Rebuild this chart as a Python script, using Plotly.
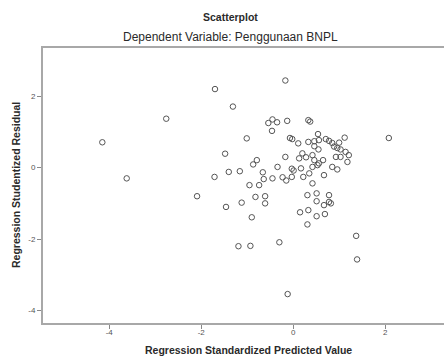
import plotly.graph_objects as go

# Regression Standardized Predicted Value
pred = [-4.15, -3.62, -2.76, -1.70, -1.31, -0.17, -0.45, -0.54, -0.35, -0.46,
        -0.13, -1.01, -0.07, -0.02, 0.11, -1.48, -0.79, -0.87, -0.17, -0.34,
        -0.03, 0.01, -1.40, -1.16, -1.71, -0.66, -0.64, -0.45, -0.23, -0.15,
        -0.03, -0.95, -0.74, -2.09, -0.82, -0.61, -0.61, -1.12, -1.46, -0.90,
        -1.19, -0.93, -0.30, -0.12, 0.33, 0.37, 0.33, 0.46, 0.54, 0.46,
        0.55, 0.71, 0.78, 0.85, 0.89, 0.96, 1.00, 1.12, 1.03, 1.14,
        1.21, 1.18, 1.03, 0.93, 2.08, 0.13, 0.28, 0.42, 0.46, 0.65,
        0.56, 0.17, 0.22, 0.35, 0.42, 0.53, 0.67, 0.85, 0.96, 0.42,
        0.31, 0.51, 0.78, 0.51, 0.67, 0.78, 0.82, 0.15, 0.33, 0.51,
        0.69, 0.31, 1.37, 1.39, 0.20, 0.56]

# Regression Studentized Residual
resid = [0.71, -0.30, 1.37, 2.20, 1.71, 2.44, 1.35, 1.25, 1.27, 1.03,
         1.31, 0.82, 0.83, 0.80, 0.68, 0.39, 0.21, 0.09, 0.30, 0.02,
         -0.03, -0.08, -0.12, -0.10, -0.26, -0.13, -0.32, -0.30, -0.27, -0.36,
         -0.26, -0.49, -0.49, -0.80, -0.82, -0.80, -1.00, -0.98, -1.10, -1.39,
         -2.20, -2.19, -2.09, -3.54, 1.33, 1.29, 0.72, 0.74, 0.94, 0.60,
         0.51, 0.80, 0.75, 0.69, 0.59, 0.55, 0.70, 0.84, 0.51, 0.44,
         0.35, 0.16, 0.30, 0.30, 0.83, 0.26, 0.29, 0.35, 0.21, 0.21,
         0.12, -0.02, -0.26, -0.16, 0.02, 0.07, -0.21, 0.02, -0.05, -0.44,
         -0.77, -0.72, -0.77, -0.94, -1.05, -0.96, -1.00, -1.25, -1.19, -1.36,
         -1.30, -1.59, -1.91, -2.57, 0.40, 0.77]

x_ticks = [-4, -2, 0, 2]
y_ticks = [-4, -2, 0, 2]

title_text = "Scatterplot"
subtitle_text = "Dependent Variable: Penggunaan BNPL"
x_title = "Regression Standardized Predicted Value"
y_title = "Regression Studentized Residual"

FONT = "Liberation Sans, Arial, sans-serif"

W, H = 444, 358
L, R, T, B = 43, 0, 48, 35
PW, PH = W - L - R, H - T - B


def px_x(v):
    return (v - L) / PW


def px_y(v):
    return (H - v - B) / PH


fig = go.Figure()
fig.add_trace(go.Scatter(
    x=pred, y=resid, mode="markers",
    marker=dict(symbol="circle-open", size=5.5, color="#555555",
                line=dict(width=1, color="#555555")),
    showlegend=False, hoverinfo="skip"))

axis_common = dict(
    showgrid=False, zeroline=False, showline=True, linecolor="#a8a8a8",
    linewidth=2, ticks="outside", ticklen=4, tickwidth=1,
    tickcolor="#888888", tickfont=dict(family=FONT, size=8, color="#555555"),
)

ann_font = dict(family=FONT, color="#2a2a2a")
fig.update_layout(
    width=W, height=H,
    margin=dict(l=L, r=R, t=T, b=B),
    paper_bgcolor="white", plot_bgcolor="white",
    xaxis=dict(range=[-5.44, 3.28], tickvals=x_ticks, ticktext=[str(v) for v in x_ticks],
               ticklabelstandoff=-4, mirror=True, **axis_common),
    yaxis=dict(range=[-4.35, 3.35], tickvals=y_ticks, ticktext=[str(v) for v in y_ticks],
               mirror=False, **axis_common),
    annotations=[
        dict(text="<b>" + title_text + "</b>", x=px_x(230), y=px_y(17),
             font=dict(size=10.5, **ann_font)),
        dict(text=subtitle_text, x=px_x(230), y=px_y(37),
             font=dict(size=12, **ann_font)),
        dict(text="<b>" + x_title + "</b>", x=px_x(248), y=px_y(350),
             font=dict(size=10.5, **ann_font)),
        dict(text="<b>" + y_title + "</b>", x=px_x(16), y=px_y(185), textangle=-90,
             font=dict(size=10.5, **ann_font)),
    ],
)
fig.update_annotations(xref="paper", yref="paper", showarrow=False,
                       xanchor="center", yanchor="middle")

fig.write_html("out.html", config={"displayModeBar": False},
               post_script="document.body.style.margin='0px';")
